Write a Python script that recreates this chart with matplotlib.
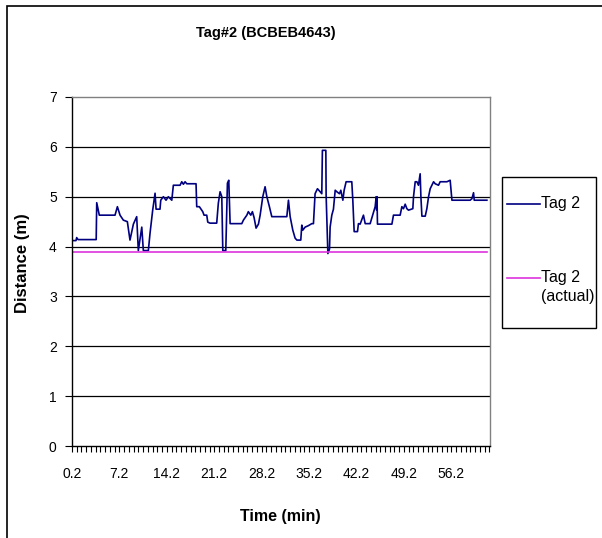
import numpy as np
import matplotlib
matplotlib.use("Agg")
import matplotlib.pyplot as plt
from matplotlib.patches import Rectangle
from matplotlib.lines import Line2D

plt.rcParams['font.family'] = ['Liberation Sans', 'DejaVu Sans']

# =============================================================================
# DATA
# =============================================================================

title = "Tag#2 (BCBEB4643)"
x_label = "Time (min)"
y_label = "Distance (m)"
series_names = ["Tag 2", "Tag 2\n(actual)"]

# measured distance, vertices of the trace (minutes, metres)
time_min = [
    0.2, 0.79, 0.89, 1.09, 3.77, 3.85, 4.23, 6.55, 6.90, 7.29, 7.78, 8.37,
    8.76, 9.26, 9.75, 9.99, 10.50, 10.73, 11.47, 11.72, 12.11, 12.46, 12.61,
    13.19, 13.30, 13.69, 14.08, 14.42, 14.93, 15.16, 16.15, 16.40, 16.64,
    16.89, 17.14, 18.51, 18.61, 19.00, 19.50, 19.69, 20.09, 20.24, 20.58,
    21.56, 21.80, 22.06, 22.31, 22.46, 22.90, 23.14, 23.34, 23.54, 25.26,
    25.50, 26.01, 26.23, 26.59, 26.83, 27.08, 27.37, 27.72, 27.97, 28.36,
    28.70, 28.96, 29.34, 29.69, 31.91, 32.15, 32.40, 32.79, 33.13, 33.39,
    33.97, 34.12, 34.27, 34.61, 35.10, 35.60, 35.84, 36.08, 36.43, 36.83,
    37.07, 37.16, 37.67, 37.71, 37.97, 38.21, 38.30, 38.55, 38.79, 39.05,
    39.29, 39.68, 39.88, 40.18, 40.37, 40.66, 41.50, 41.65, 41.85, 42.34,
    42.48, 42.73, 43.22, 43.48, 44.21, 44.95, 45.10, 45.17, 45.22, 45.29,
    47.42, 47.65, 48.64, 48.89, 49.13, 49.38, 49.63, 49.87, 50.51, 50.61,
    50.86, 51.11, 51.34, 51.59, 51.70, 51.85, 52.34, 52.58, 52.83, 53.07,
    53.57, 53.81, 54.30, 54.54, 55.54, 56.02, 56.28, 58.97, 59.23, 59.47,
    59.57, 61.44,
]
distance_m = [
    4.12, 4.12, 4.18, 4.14, 4.14, 4.88, 4.63, 4.63, 4.80, 4.63, 4.53, 4.50,
    4.13, 4.45, 4.60, 3.92, 4.39, 3.92, 3.92, 4.27, 4.73, 5.07, 4.75,
    4.75, 4.93, 5.00, 4.93, 5.00, 4.93, 5.23, 5.23, 5.30, 5.25,
    5.30, 5.26, 5.26, 4.80, 4.80, 4.70, 4.63, 4.63, 4.49, 4.47,
    4.47, 4.87, 5.10, 5.00, 3.92, 3.92, 5.27, 5.33, 4.46, 4.46,
    4.53, 4.63, 4.70, 4.63, 4.70, 4.58, 4.37, 4.45, 4.63, 5.00,
    5.20, 5.00, 4.80, 4.60, 4.60, 4.93, 4.60, 4.33, 4.17, 4.13,
    4.13, 4.43, 4.33, 4.39, 4.42, 4.46, 4.46, 5.06, 5.16, 5.10,
    5.06, 5.93, 5.93, 5.03, 3.86, 3.95, 4.39, 4.63, 4.75, 5.13,
    5.10, 5.06, 5.13, 4.93, 5.13, 5.30, 5.30, 4.93, 4.30, 4.30,
    4.46, 4.45, 4.63, 4.46, 4.46, 4.80, 5.00, 4.73, 5.00, 4.45,
    4.45, 4.63, 4.63, 4.80, 4.76, 4.85, 4.76, 4.73, 4.76, 5.00,
    5.30, 5.30, 5.23, 5.46, 5.00, 4.61, 4.61, 4.76, 5.00, 5.16,
    5.30, 5.26, 5.23, 5.30, 5.30, 5.33, 4.93, 4.93, 4.96, 5.08,
    4.93, 4.93,
]

# ground-truth distance
actual_time = [0.2, 61.44]
actual_distance = [3.9, 3.9]

# axis settings
t_start, t_end = 0.2, 61.9
tick_step = 0.7          # one tick every 0.7 min
label_every = 10         # label every 10th tick
y_ticks = [0, 1, 2, 3, 4, 5, 6, 7]

colors = ["#000080", "#dd33dd"]

# =============================================================================
# FIGURE
# =============================================================================

W, H = 602, 538
fig = plt.figure(figsize=(W / 100, H / 100), dpi=100)

def fx(px):
    return px / W

def fy(py):
    return 1 - py / H

# outer chart border
fig.patches.append(Rectangle((fx(7), fy(545)), fx(610), fy(6) - fy(545),
                             transform=fig.transFigure, fill=False,
                             edgecolor="black", linewidth=1.2))

ax = fig.add_axes([fx(72), fy(446), fx(418), fy(97) - fy(446)])

ax.plot(time_min, distance_m, color=colors[0], linewidth=1.2)
ax.plot(actual_time, actual_distance, color=colors[1], linewidth=1.2)

ax.set_xlim(t_start, t_end)
ax.set_ylim(0, 7)

# horizontal gridlines
for yv in y_ticks[1:-1]:
    ax.axhline(yv, color="black", linewidth=0.9, zorder=0)

ticks = t_start + tick_step * np.arange(int((t_end - t_start) / tick_step) + 1)
ax.set_xticks(ticks)
ax.set_xticklabels([f"{t:.1f}" if i % label_every == 0 else ""
                    for i, t in enumerate(ticks)])
ax.set_yticks(y_ticks)
ax.tick_params(axis="x", direction="out", length=4, width=0.8,
               pad=11, labelsize=10)
ax.tick_params(axis="y", direction="out", length=5, width=0.8,
               pad=6, labelsize=10)

for side in ["left", "bottom"]:
    ax.spines[side].set_color("black")
    ax.spines[side].set_linewidth(1)
for side in ["top", "right"]:
    ax.spines[side].set_color("#808080")
    ax.spines[side].set_linewidth(1)

fig.text(fx(266), fy(33), title, ha="center", va="center",
         fontsize=10.5, fontweight="bold")
fig.text(fx(280), fy(516), x_label, ha="center", va="center",
         fontsize=11.5, fontweight="bold")
fig.text(fx(22), fy(263), y_label, ha="center", va="center",
         rotation=90, fontsize=12, fontweight="bold")

# legend box
fig.patches.append(Rectangle((fx(502), fy(328)), fx(94), fy(177) - fy(328),
                             transform=fig.transFigure, fill=False,
                             edgecolor="black", linewidth=1))
for name, color, ly in zip(series_names, colors, [204, 278]):
    fig.lines.append(Line2D([fx(507), fx(540)], [fy(ly), fy(ly)],
                            transform=fig.transFigure, color=color,
                            linewidth=1.2))
    fig.text(fx(541), fy(ly - 8), name, ha="left", va="top",
             fontsize=11.5, linespacing=1.3)

plt.savefig("out.png", dpi=100)
